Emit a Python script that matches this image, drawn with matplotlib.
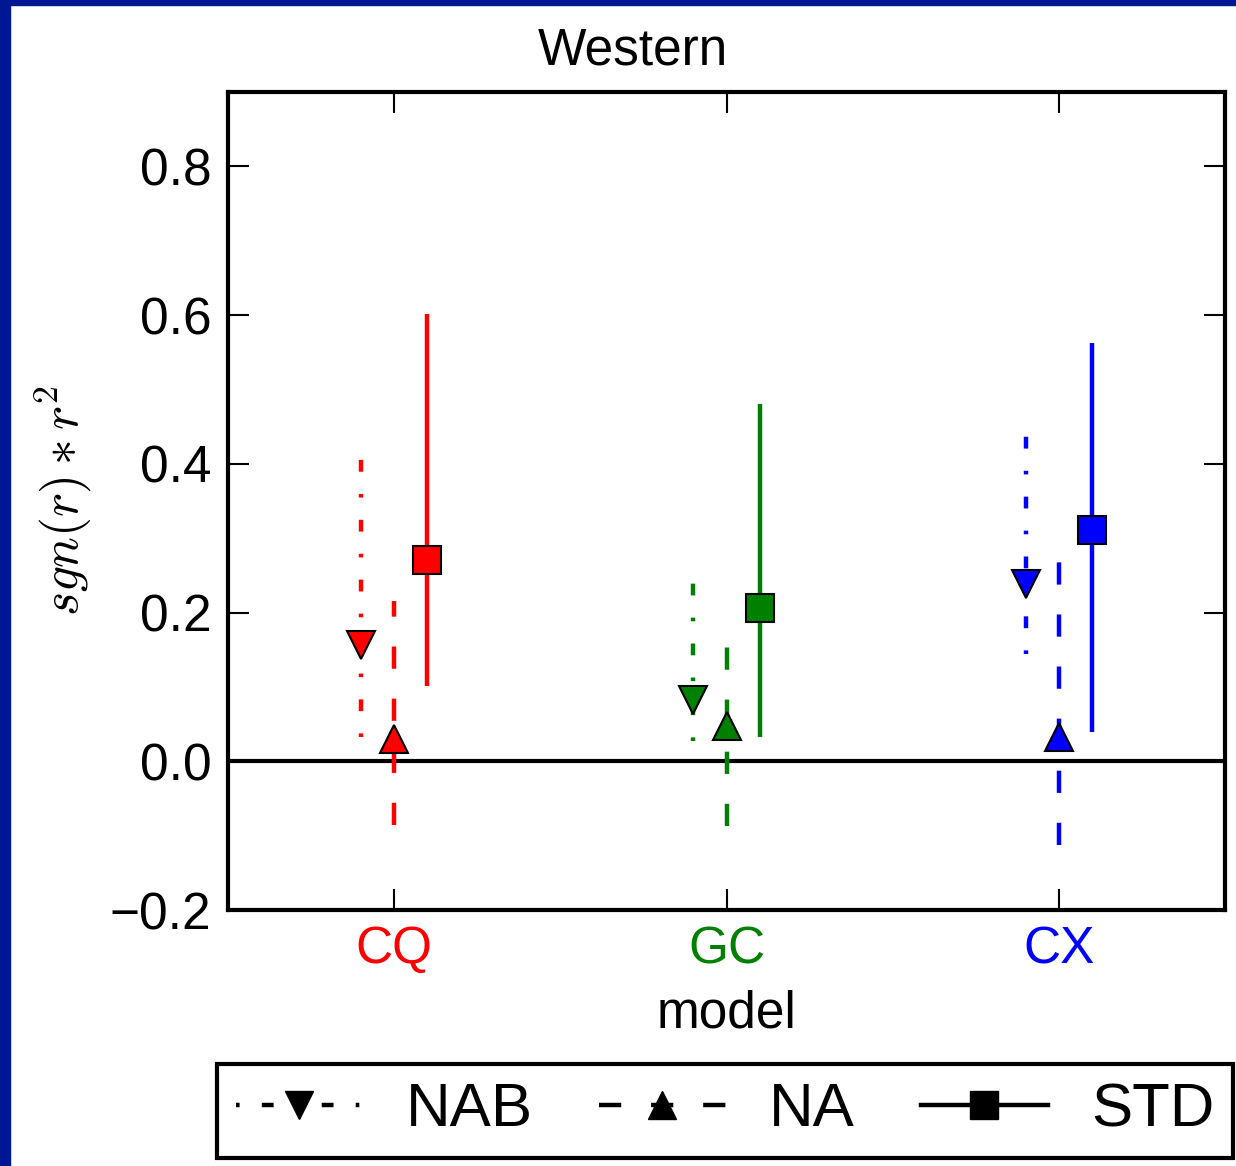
import matplotlib
matplotlib.use("Agg")
import matplotlib.pyplot as plt
from matplotlib.lines import Line2D
from matplotlib.patches import Rectangle
import numpy as np

plt.rcParams['font.family'] = ['Liberation Sans', 'DejaVu Sans']
plt.rcParams['mathtext.fontset'] = 'cm'
plt.rcParams['lines.scale_dashes'] = False

# models and colours
models = ['CQ', 'GC', 'CX']
model_colors = ['red', 'green', 'blue']

# central values and ranges
nab = [0.156, 0.083, 0.239]
nab_lo = [0.032, 0.027, 0.144]
nab_hi = [0.409, 0.241, 0.438]

na = [0.030, 0.048, 0.032]
na_lo = [-0.086, -0.087, -0.113]
na_hi = [0.215, 0.192, 0.272]

std = [0.271, 0.206, 0.311]
std_lo = [0.101, 0.032, 0.039]
std_hi = [0.602, 0.480, 0.563]

series_names = ['NAB', 'NA', 'STD']
yticks = [-0.2, 0.0, 0.2, 0.4, 0.6, 0.8]

W, H = 1236, 1166
fig = plt.figure(figsize=(W / 100, H / 100), dpi=100)
ax = fig.add_axes([228 / W, 1 - 910 / H, (1225 - 228) / W, (910 - 92) / H])

lw = 3.2
# dash patterns in points
dashdot = (0, (2.6, 16.0, 8.5, 16.0))
dashed = (0, (16.0, 21.5))
styles = [('v', dashdot, -0.1), ('^', dashed, 0.0), ('s', '-', 0.1)]
series = [(nab, nab_lo, nab_hi), (na, na_lo, na_hi), (std, std_lo, std_hi)]

ax.axhline(0, color='k', lw=3, zorder=1)

x = np.arange(len(models))
for (mk, ls, off), (val, lo, hi) in zip(styles, series):
    for i in range(len(models)):
        err = [[val[i] - lo[i]], [hi[i] - val[i]]]
        eb = ax.errorbar([x[i] + off], [val[i]], yerr=err, fmt=mk, color=model_colors[i],
                         ms=20, mec='k', mew=1.5, elinewidth=lw, capsize=0, zorder=3)
        eb[2][0].set_linestyle(ls)

ax.set_xlim(-0.5, 2.5)
ax.set_ylim(-0.2, 0.9)
ax.set_yticks(yticks)
ax.set_yticklabels(['\u22120.2', '0.0', '0.2', '0.4', '0.6', '0.8'])
ax.set_xticks(x)
ax.set_xticklabels(models)
for lab, c in zip(ax.get_xticklabels(), model_colors):
    lab.set_color(c)

ax.tick_params(direction='in', top=True, right=True, length=15, width=1.5,
               labelsize=37)
ax.tick_params(axis='y', pad=12)
ax.tick_params(axis='x', pad=11)
for sp in ax.spines.values():
    sp.set_linewidth(3)

ax.set_xlabel('model', fontsize=37, labelpad=11)
ax.set_ylabel(r'$sgn(r)*r^2$', fontsize=37, labelpad=12)

fig.text(633 / W, 1 - 51 / H, 'Western', fontsize=37, ha='center', va='center')

handles = [Line2D([], [], color='k', ls=ls, lw=lw, marker=mk, ms=20, mec='k')
           for mk, ls, off in styles]
leg = fig.legend(handles, series_names, loc='center', ncol=3, numpoints=1,
                 bbox_to_anchor=((218 + 1232) / 2 / W, 1 - 1111 / H),
                 fontsize=44.5, fancybox=False, framealpha=1, edgecolor='k',
                 handlelength=2.05, handletextpad=0.7, columnspacing=1.07,
                 borderpad=0.3, borderaxespad=0)
leg.get_frame().set_linewidth(3)

# dark blue slide border on top and left
fig.patches.append(Rectangle((0, 1 - 5 / H), 1, 5 / H, transform=fig.transFigure,
                             color='#001794', zorder=10))
fig.patches.append(Rectangle((0, 0), 10 / W, 1, transform=fig.transFigure,
                             color='#001794', zorder=10))

fig.savefig('out.png', dpi=100)
